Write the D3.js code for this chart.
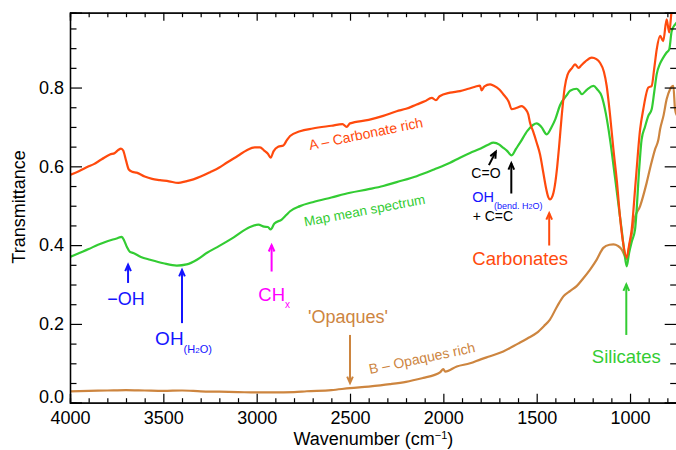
<!DOCTYPE html>
<html><head><meta charset="utf-8">
<script src="https://cdn.jsdelivr.net/npm/d3@7"></script>
<style>body{margin:0;background:#fff}svg{display:block}text{font-family:"Liberation Sans",Arial,sans-serif}</style>
</head><body><svg id="c" width="676" height="450"></svg>
<script>
// ---- data: [wavenumber, transmittance] ----
const seriesA = [[4000,0.578],[3950,0.588],[3900,0.600],[3875,0.605],[3830,0.618],[3786,0.630],[3760,0.634],[3740,0.642],[3727,0.645],[3715,0.640],[3700,0.615],[3685,0.592],[3665,0.586],[3643,0.584],[3600,0.574],[3560,0.568],[3518,0.565],[3470,0.562],[3420,0.558],[3380,0.562],[3339,0.567],[3300,0.574],[3250,0.585],[3200,0.597],[3161,0.609],[3100,0.627],[3053,0.641],[3010,0.648],[2982,0.648],[2960,0.640],[2940,0.632],[2925,0.622],[2910,0.638],[2885,0.650],[2857,0.653],[2840,0.665],[2821,0.677],[2768,0.689],[2700,0.696],[2600,0.703],[2540,0.707],[2518,0.700],[2500,0.709],[2400,0.718],[2322,0.728],[2250,0.740],[2200,0.746],[2143,0.757],[2100,0.765],[2062,0.774],[2040,0.768],[2020,0.778],[1964,0.787],[1911,0.791],[1866,0.797],[1830,0.802],[1804,0.805],[1795,0.793],[1780,0.803],[1750,0.808],[1732,0.805],[1700,0.795],[1679,0.783],[1650,0.764],[1634,0.745],[1610,0.748],[1580,0.753],[1560,0.745],[1545,0.732],[1536,0.711],[1520,0.690],[1500,0.660],[1482,0.630],[1465,0.585],[1450,0.545],[1438,0.522],[1429,0.516],[1415,0.525],[1400,0.560],[1390,0.600],[1380,0.650],[1366,0.728],[1350,0.800],[1335,0.832],[1310,0.850],[1295,0.859],[1275,0.850],[1262,0.856],[1240,0.866],[1205,0.876],[1180,0.872],[1161,0.863],[1140,0.840],[1125,0.804],[1107,0.730],[1089,0.643],[1070,0.560],[1054,0.473],[1035,0.400],[1018,0.368],[1005,0.400],[991,0.440],[970,0.560],[946,0.694],[929,0.745],[902,0.800],[884,0.804],[870,0.850],[857,0.897],[839,0.931],[822,0.918],[804,0.973],[790,0.940],[777,0.995],[760,1.02],[750,1.02]];
const seriesMean = [[4000,0.370],[3950,0.380],[3900,0.390],[3850,0.401],[3800,0.410],[3750,0.417],[3723,0.421],[3710,0.412],[3695,0.395],[3679,0.383],[3661,0.380],[3620,0.370],[3571,0.363],[3500,0.354],[3428,0.348],[3375,0.351],[3320,0.363],[3268,0.380],[3200,0.398],[3125,0.419],[3036,0.446],[2991,0.452],[2960,0.447],[2940,0.446],[2925,0.440],[2905,0.455],[2866,0.465],[2840,0.477],[2821,0.486],[2768,0.499],[2700,0.509],[2600,0.521],[2500,0.533],[2400,0.542],[2322,0.550],[2250,0.560],[2143,0.575],[2050,0.592],[1964,0.609],[1911,0.622],[1857,0.634],[1800,0.645],[1760,0.655],[1732,0.660],[1700,0.655],[1687,0.650],[1660,0.640],[1634,0.628],[1610,0.645],[1589,0.660],[1550,0.690],[1520,0.705],[1500,0.709],[1475,0.700],[1446,0.681],[1420,0.700],[1400,0.720],[1375,0.755],[1340,0.780],[1321,0.792],[1286,0.797],[1270,0.790],[1259,0.783],[1230,0.795],[1196,0.804],[1175,0.795],[1152,0.778],[1130,0.735],[1107,0.668],[1080,0.570],[1054,0.473],[1045,0.440],[1030,0.380],[1018,0.346],[1005,0.380],[990,0.410],[973,0.440],[950,0.600],[938,0.668],[920,0.700],[902,0.728],[884,0.745],[870,0.790],[857,0.834],[840,0.860],[822,0.876],[804,0.889],[790,0.897],[777,0.943],[759,0.960],[750,0.965]];
const seriesB = [[4000,0.029],[3900,0.030],[3800,0.031],[3700,0.032],[3600,0.031],[3500,0.030],[3400,0.031],[3300,0.029],[3200,0.028],[3100,0.027],[3000,0.026],[2911,0.026],[2800,0.027],[2732,0.029],[2600,0.032],[2500,0.037],[2400,0.041],[2286,0.047],[2200,0.053],[2107,0.063],[2050,0.070],[2018,0.077],[2000,0.085],[1990,0.079],[1928,0.092],[1857,0.100],[1800,0.110],[1750,0.118],[1679,0.130],[1600,0.150],[1550,0.163],[1500,0.177],[1460,0.195],[1429,0.211],[1390,0.245],[1357,0.270],[1320,0.284],[1286,0.296],[1250,0.316],[1214,0.338],[1180,0.362],[1143,0.393],[1110,0.401],[1089,0.402],[1065,0.398],[1045,0.389],[1030,0.375],[1018,0.364],[1005,0.395],[990,0.430],[977,0.465],[946,0.499],[911,0.558],[890,0.600],[866,0.643],[848,0.668],[839,0.694],[820,0.730],[804,0.770],[786,0.795],[768,0.804],[759,0.745],[750,0.730]];
const xMajorTicks = [4000,3500,3000,2500,2000,1500,1000];
const yMajorTicks = [0.0,0.2,0.4,0.6,0.8];
const xLabel = "Wavenumber (cm";
const yLabel = "Transmittance";

// ---- layout ----
const svg = d3.select("#c");
const L = 70, R = 676.7, T = 12.7, B = 402.7;
const x = d3.scaleLinear().domain([4000, 750]).range([L, R]);
const y = d3.scaleLinear().domain([0, 0.99]).range([B, T]);
const colA = "#ff4a0d", colM = "#33cc33", colB = "#cd853f", blue = "#1414ff", mag = "#ff00ff";

svg.append("defs").append("clipPath").attr("id","clip").append("rect")
  .attr("x",L).attr("y",T).attr("width",R-L).attr("height",B-T);

const line = d3.line().x(d=>x(d[0])).y(d=>y(d[1])).curve(d3.curveMonotoneX);
const g = svg.append("g").attr("clip-path","url(#clip)");
[[seriesB,colB],[seriesMean,colM],[seriesA,colA]].forEach(([s,c])=>{
  g.append("path").datum(s).attr("d",line).attr("fill","none").attr("stroke",c)
   .attr("stroke-width",2.2).attr("stroke-linejoin","round");
});

// ---- axes ----
const xMinor = d3.range(4000, 749, -100).filter(v=>!xMajorTicks.includes(v));
const yMinor = d3.range(0, 0.99, 0.05).map(v=>+v.toFixed(2)).filter(v=>!yMajorTicks.some(m=>Math.abs(m-v)<1e-6));
function styleAxis(sel){ sel.select(".domain").attr("stroke","#000").attr("stroke-width",1.3);
  sel.selectAll(".tick line").attr("stroke","#000").attr("stroke-width",1.2);
  sel.selectAll("text").attr("font-size",18).attr("fill","#000").attr("font-family",'"Liberation Sans",Arial,sans-serif'); }
const ax = svg.append("g").attr("transform",`translate(0,${B})`)
  .call(d3.axisBottom(x).tickValues(xMajorTicks).tickSize(-9).tickPadding(9).tickFormat(d3.format("d")));
styleAxis(ax);
svg.append("g").attr("transform",`translate(0,${B})`).call(d3.axisBottom(x).tickValues(xMinor).tickSize(-4.5).tickFormat("")).call(styleAxis);
svg.append("g").attr("transform",`translate(0,${T})`).call(d3.axisTop(x).tickValues(xMajorTicks).tickSize(-8).tickFormat("")).call(styleAxis);
svg.append("g").attr("transform",`translate(0,${T})`).call(d3.axisTop(x).tickValues(xMinor).tickSize(-4.5).tickFormat("")).call(styleAxis);
const ay = svg.append("g").attr("transform",`translate(${L},0)`)
  .call(d3.axisLeft(y).tickValues(yMajorTicks).tickSize(-12).tickPadding(6).tickFormat(d3.format(".1f")));
styleAxis(ay);
ay.selectAll(".tick").filter(d=>d===0).select("text").attr("y",-6);
svg.append("g").attr("transform",`translate(${L},0)`).call(d3.axisLeft(y).tickValues(yMinor).tickSize(-6.5).tickFormat("")).call(styleAxis);
svg.append("g").attr("transform",`translate(${R},0)`).call(d3.axisRight(y).tickValues(yMajorTicks).tickSize(-12).tickFormat("")).call(styleAxis);
svg.append("g").attr("transform",`translate(${R},0)`).call(d3.axisRight(y).tickValues(yMinor).tickSize(-6.5).tickFormat("")).call(styleAxis);

// axis titles
const xt = svg.append("text").attr("x",(L+R)/2).attr("y",445).attr("text-anchor","middle").attr("font-size",18);
xt.append("tspan").text(xLabel);
xt.append("tspan").attr("font-size",11).attr("dy",-6).text("−1");
xt.append("tspan").attr("dy",6).text(")");
svg.append("text").attr("transform",`translate(25,207) rotate(-90)`).attr("text-anchor","middle").attr("font-size",18).text(yLabel);

// ---- annotations (positions in data space) ----
function arrow(w, t1, w2, t2, color, sw){
  const x1=x(w), y1=y(t1), x2=x(w2), y2=y(t2);
  const a=Math.atan2(y2-y1,x2-x1), h=7, s=0.42;
  svg.append("line").attr("x1",x1).attr("y1",y1).attr("x2",x2).attr("y2",y2).attr("stroke",color).attr("stroke-width",sw);
  svg.append("path").attr("d",`M${x2-h*Math.cos(a-s)},${y2-h*Math.sin(a-s)}L${x2},${y2}L${x2-h*Math.cos(a+s)},${y2-h*Math.sin(a+s)}`)
    .attr("fill","none").attr("stroke",color).attr("stroke-width",sw).attr("stroke-linejoin","miter");
}
function label(w, t, str, color, size, anchor, rot){
  const el = svg.append("text").attr("transform",`translate(${x(w)},${y(t)}) rotate(${rot||0})`)
    .attr("fill",color).attr("font-size",size).attr("text-anchor",anchor||"start");
  if (Array.isArray(str)) str.forEach(p=>el.append("tspan").attr("font-size",p.size||size).attr("dy",p.dy||0).text(p.t));
  else el.text(str);
  return el;
}
// curve labels
label(2714, 0.6415, "A – Carbonate rich", colA, 14, "start", -11.5);
label(2741, 0.447, "Map mean spectrum", colM, 13.5, "start", -10.8);
label(2393, 0.073, "B – Opaques rich", colB, 14, "start", -11.7);
// -OH
arrow(3689, 0.304, 3689, 0.350, blue, 2);
label(3700, 0.249, "−OH", blue, 18, "middle");
// OH (H2O)
arrow(3400, 0.202, 3400, 0.337, blue, 2);
label(3544, 0.146, [{t:"OH"},{t:"(H",size:11,dy:8},{t:"2",size:8},{t:"O)",size:11}], blue, 19, "start");
// CH_x
arrow(2920, 0.333, 2920, 0.400, mag, 2);
label(2991, 0.257, [{t:"CH"},{t:"x",size:10,dy:7}], mag, 18.5, "start");
// Opaques
arrow(2500, 0.172, 2500, 0.050, colB, 2);
label(2725, 0.202, "'Opaques'", colB, 18, "start");
// C=O
arrow(1756, 0.603, 1719, 0.637, "#000", 2);
label(1850, 0.570, "C=O", "#000", 14, "start");
// OH bend + C=C
arrow(1636, 0.531, 1636, 0.608, "#000", 2);
label(1845, 0.510, [{t:"OH"},{t:"(bend. H",size:9,dy:7},{t:"2",size:7},{t:"O)",size:9}], blue, 14.5, "start");
label(1843, 0.462, "+ C=C", "#000", 14, "start");
// Carbonates
arrow(1433, 0.399, 1433, 0.481, colA, 2);
label(1845, 0.350, "Carbonates", colA, 18.5, "start");
// Silicates
arrow(1020, 0.172, 1020, 0.300, colM, 2);
label(1020, 0.100, "Silicates", colM, 18.5, "middle");
</script></body></html>
